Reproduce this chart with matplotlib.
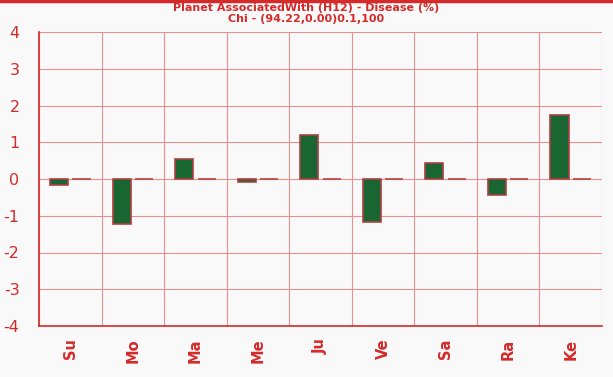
import matplotlib
matplotlib.use("Agg")
import matplotlib.pyplot as plt
import numpy as np

categories = ["Su", "Mo", "Ma", "Me", "Ju", "Ve", "Sa", "Ra", "Ke"]
disease = [-0.16, -1.22, 0.54, -0.07, 1.20, -1.17, 0.44, -0.43, 1.74]
other = [0, 0, 0, 0, 0, 0, 0, 0, 0]
yticks = [-4, -3, -2, -1, 0, 1, 2, 3, 4]

W, H = 613, 377
fig = plt.figure(figsize=(W / 100, H / 100), dpi=100, facecolor="#f9f9f9")
ax = fig.add_axes([39 / W, 1 - 326 / H, (602 - 39) / W, (326 - 32) / H])
ax.set_facecolor("#f9f9f9")

red = "#d42a2a"
grid = "#e89090"
x = np.arange(len(categories)) + 0.5
bw = 0.29
ax.bar(x - 0.18, disease, width=bw, color="#1a6633", edgecolor="#b04040", linewidth=1.2, zorder=3)
ax.bar(x + 0.18, other, width=bw, color="#d04040", edgecolor="#c04040", linewidth=1.2, zorder=3)

ax.set_xlim(0, len(categories))
ax.set_ylim(-4, 4)
ax.set_yticks(yticks)
ax.set_yticklabels([str(v) for v in yticks], color=red, fontsize=11.5)
ax.set_xticks(np.arange(len(categories) + 1), minor=False)
ax.set_xticklabels([])
ax.set_xticks(x, minor=True)
ax.set_xticklabels(categories, minor=True, rotation=90, color=red, fontsize=10.5, fontweight="bold")
ax.tick_params(axis="x", which="both", length=0, pad=9)
ax.tick_params(axis="y", length=0, pad=14)
ax.grid(True, which="major", color=grid, linewidth=0.8, zorder=0)
for s in ["top", "right"]:
    ax.spines[s].set_visible(False)
for s in ["left", "bottom"]:
    ax.spines[s].set_color(red)
    ax.spines[s].set_linewidth(1.2)

fig.text(0.5, 1 - 8 / H, "Planet AssociatedWith (H12) - Disease (%)", ha="center", va="center",
         color=red, fontsize=8, fontweight="bold")
fig.text(0.5, 1 - 19 / H, "Chi - (94.22,0.00)0.1,100", ha="center", va="center",
         color=red, fontsize=8, fontweight="bold")
fig.add_artist(plt.Line2D([0, 1], [1 - 1 / H, 1 - 1 / H], color=red, linewidth=2.5))

fig.savefig("out.png", dpi=100, facecolor=fig.get_facecolor())
